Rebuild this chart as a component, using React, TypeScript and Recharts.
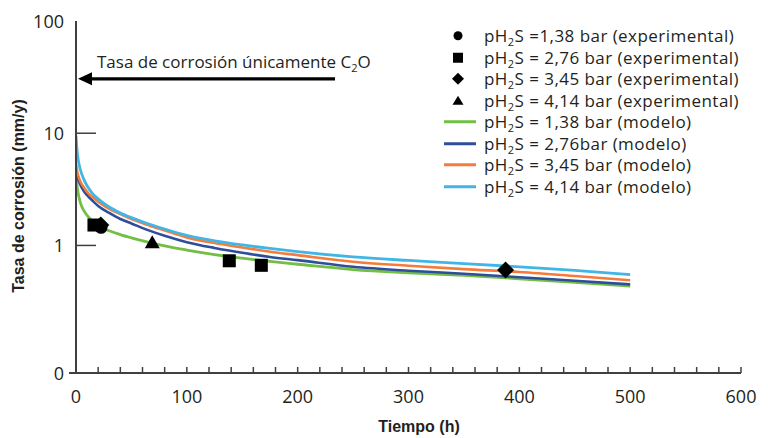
import { ComposedChart, Line, Scatter, XAxis, YAxis, ReferenceLine } from "recharts";

const FONT = "'Open Sans', 'Liberation Sans', sans-serif";
const TITLE_FONT = "'Liberation Sans', Arial, sans-serif";
const INK = "#231f20";
const AXIS = "#404040";

// tiempo (h) de las curvas del modelo
const tiempo = [0, 1, 2, 4, 7, 10, 15, 20, 30, 40, 50, 65, 80, 100, 125, 150, 175, 200, 250, 300, 350, 400, 450, 500];

// tasa de corrosión (mm/y) - modelo
const modelo138 = [4.4, 3.4, 2.9, 2.4, 2.05, 1.85, 1.64, 1.5, 1.35, 1.25, 1.17, 1.07, 0.99, 0.91, 0.83, 0.77, 0.72, 0.68, 0.61, 0.57, 0.54, 0.505, 0.47, 0.435];
const modelo276 = [4.9, 4.3, 3.9, 3.45, 3.05, 2.8, 2.5, 2.25, 1.95, 1.72, 1.57, 1.37, 1.22, 1.07, 0.95, 0.86, 0.79, 0.74, 0.645, 0.595, 0.56, 0.52, 0.485, 0.45];
const modelo345 = [5.3, 4.6, 4.2, 3.7, 3.3, 3.0, 2.7, 2.45, 2.12, 1.9, 1.72, 1.52, 1.36, 1.18, 1.05, 0.96, 0.88, 0.82, 0.715, 0.66, 0.615, 0.58, 0.535, 0.49];
const modelo414 = [9.5, 7.0, 5.8, 4.7, 3.9, 3.4, 2.9, 2.6, 2.2, 1.95, 1.77, 1.56, 1.4, 1.23, 1.1, 1.01, 0.94, 0.88, 0.79, 0.735, 0.69, 0.645, 0.6, 0.55];

// puntos experimentales
const expT138 = [22.6];
const expV138 = [1.45];
const expT276 = [16.2, 138.3, 167.2];
const expV276 = [1.52, 0.73, 0.665];
const expT345 = [22.4, 387.6];
const expV345 = [1.52, 0.604];
const expT414 = [68.8];
const expV414 = [1.07];

const xTicks = [0, 20, 40, 60, 80, 100, 120, 140, 160, 180, 200, 220, 240, 260, 280, 300, 320, 340, 360, 380, 400, 420, 440, 460, 480, 500, 520, 540, 560, 580, 600];
const yTicks = [0.073, 1, 10, 100];

const legendTexts = [
  " =1,38 bar (experimental)",
  " = 2,76 bar (experimental)",
  " = 3,45 bar (experimental)",
  " = 4,14 bar (experimental)",
  " = 1,38 bar (modelo)",
  " = 2,76bar (modelo)",
  " = 3,45 bar (modelo)",
  " = 4,14 bar (modelo)",
];

const GREEN = "#72bf44";
const BLUE = "#2e4d9b";
const ORANGE = "#f47b3a";
const LIGHTBLUE = "#41b6e6";

const rows = (ts: number[], vs: number[]) => ts.map((t, i) => ({ t, v: vs[i] }));

const XTick = (props: any) => {
  const { x, y, payload } = props;
  const v = payload.value;
  return (
    <g>
      <line x1={x} y1={y} x2={x} y2={y - 6} stroke={AXIS} strokeWidth={1.5} />
      {v % 100 === 0 && (
        <text x={x} y={y + 30} textAnchor="middle" fontSize={18} fill={INK} fontFamily={FONT}>
          {v}
        </text>
      )}
    </g>
  );
};

const YTick = (props: any) => {
  const { x, y, payload } = props;
  const v = payload.value;
  return (
    <g>
      {(v === 1 || v === 10) && <line x1={x} y1={y} x2={x + 20} y2={y} stroke={AXIS} strokeWidth={1.5} />}
      {v < 1 && <line x1={x - 7} y1={y} x2={x} y2={y} stroke={AXIS} strokeWidth={2} />}
      <text x={x - 12} y={y + 6.5} textAnchor="end" fontSize={18} fill={INK} fontFamily={FONT}>
        {v < 1 ? "0" : v}
      </text>
    </g>
  );
};

const XTitle = () => (
  <text x={419} y={432} textAnchor="middle" fontSize={16} fontWeight="bold" fill={INK} fontFamily={TITLE_FONT}>
    Tiempo (h)
  </text>
);

const YTitle = () => (
  <text x={24} y={196} transform="rotate(-90 24 196)" textAnchor="middle" fontSize={16} fontWeight="bold" fill={INK} fontFamily={TITLE_FONT}>
    Tasa de corrosión (mm/y)
  </text>
);

const Arrow = (props: any) => {
  const { x1, y1, x2 } = props;
  return (
    <g>
      <line x1={x1 + 12} y1={y1} x2={x2} y2={y1} stroke="#000" strokeWidth={3.3} />
      <polygon points={`${x1},${y1} ${x1 + 14},${y1 - 6.5} ${x1 + 14},${y1 + 6.5}`} fill="#000" />
      <text x={x1 + 19} y={y1 - 11} fontSize={17} fill={INK} fontFamily={FONT}>
        Tasa de corrosión únicamente C
        <tspan fontSize={11} dy={4}>2</tspan>
        <tspan dy={-4}>O</tspan>
      </text>
    </g>
  );
};

const Dot = (p: any) => <circle cx={p.cx} cy={p.cy} r={6.5} fill="#000" />;
const Sq = (p: any) => <rect x={p.cx - 6.5} y={p.cy - 6.5} width={13} height={13} fill="#000" />;
const Dia = (p: any) => (
  <polygon points={`${p.cx},${p.cy - 8.5} ${p.cx + 8.5},${p.cy} ${p.cx},${p.cy + 8.5} ${p.cx - 8.5},${p.cy}`} fill="#000" />
);
const Tri = (p: any) => (
  <polygon points={`${p.cx},${p.cy - 7} ${p.cx + 7.5},${p.cy + 6} ${p.cx - 7.5},${p.cy + 6}`} fill="#000" />
);

const LegendIcon = ({ i }: { i: number }) => {
  const c = 18;
  const m = 10.75;
  if (i === 0) return <circle cx={c} cy={m} r={4.5} fill="#000" />;
  if (i === 1) return <rect x={c - 5} y={m - 5} width={10} height={10} fill="#000" />;
  if (i === 2) return <polygon points={`${c},${m - 6} ${c + 6},${m} ${c},${m + 6} ${c - 6},${m}`} fill="#000" />;
  if (i === 3) return <polygon points={`${c},${m - 5} ${c + 5.5},${m + 4} ${c - 5.5},${m + 4}`} fill="#000" />;
  const col = [GREEN, BLUE, ORANGE, LIGHTBLUE][i - 4];
  return <line x1={4} y1={m} x2={36} y2={m} stroke={col} strokeWidth={3} />;
};

const Leyenda = () => (
  <div style={{ position: "absolute", left: 440, top: 25, fontFamily: FONT, fontSize: 17, color: INK }}>
    {legendTexts.map((txt, i) => (
      <div key={i} style={{ display: "flex", alignItems: "center", height: 21.5, whiteSpace: "pre" }}>
        <svg width={44} height={21.5}>
          <LegendIcon i={i} />
        </svg>
        <span style={{ letterSpacing: 0.45 }}>
          pH<span style={{ fontSize: 11, position: "relative", top: 4 }}>2</span>S{txt}
        </span>
      </div>
    ))}
  </div>
);

export default function App() {
  return (
    <div style={{ position: "absolute", left: 0, top: 0, width: 768, height: 438, background: "#fff" }}>
      <ComposedChart width={768} height={438} margin={{ top: 21, right: 27, bottom: 20, left: 0 }}>
        <XAxis
          type="number"
          dataKey="t"
          domain={[0, 600]}
          ticks={xTicks}
          interval={0}
          tickSize={0}
          tickMargin={0}
          tickLine={false}
          tick={<XTick />}
          axisLine={{ stroke: AXIS, strokeWidth: 2 }}
          height={45}
          allowDataOverflow
          label={<XTitle />}
        />
        <YAxis
          type="number"
          scale="log"
          domain={[0.073, 100]}
          ticks={yTicks}
          interval={0}
          tickSize={0}
          tickMargin={0}
          tickLine={false}
          tick={<YTick />}
          axisLine={{ stroke: AXIS, strokeWidth: 2 }}
          width={76}
          allowDataOverflow
          label={<YTitle />}
        />
        <ReferenceLine segment={[{ x: 1.8, y: 30.5 }, { x: 233.7, y: 30.5 }]} shape={<Arrow />} ifOverflow="visible" />
        <Line data={rows(tiempo, modelo138)} dataKey="v" type="monotone" stroke={GREEN} strokeWidth={2.8} dot={false} isAnimationActive={false} />
        <Line data={rows(tiempo, modelo276)} dataKey="v" type="monotone" stroke={BLUE} strokeWidth={2.6} dot={false} isAnimationActive={false} />
        <Line data={rows(tiempo, modelo345)} dataKey="v" type="monotone" stroke={ORANGE} strokeWidth={2.6} dot={false} isAnimationActive={false} />
        <Line data={rows(tiempo, modelo414)} dataKey="v" type="monotone" stroke={LIGHTBLUE} strokeWidth={2.8} dot={false} isAnimationActive={false} />
        <Scatter data={rows(expT276, expV276)} dataKey="v" shape={Sq} isAnimationActive={false} />
        <Scatter data={rows(expT345, expV345)} dataKey="v" shape={Dia} isAnimationActive={false} />
        <Scatter data={rows(expT414, expV414)} dataKey="v" shape={Tri} isAnimationActive={false} />
        <Scatter data={rows(expT138, expV138)} dataKey="v" shape={Dot} isAnimationActive={false} />
      </ComposedChart>
      <Leyenda />
    </div>
  );
}
